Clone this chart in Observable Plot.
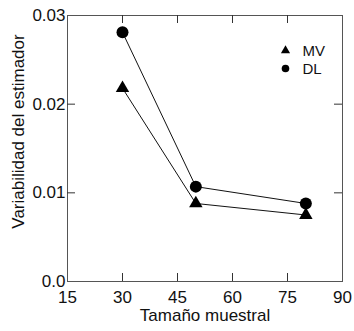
<!DOCTYPE html>
<html>
<head>
<meta charset="utf-8">
<script src="https://cdn.jsdelivr.net/npm/d3@7"></script>
<script src="https://cdn.jsdelivr.net/npm/@observablehq/plot@0.6"></script>
<style>
  html, body { margin: 0; padding: 0; background: #fff; }
  svg { display: block; }
</style>
</head>
<body>
<div id="chart"></div>
<script>
const sampleSizes = [30, 50, 80];
const mvValues = [0.0218, 0.0088, 0.0075];
const dlValues = [0.0281, 0.0107, 0.0088];
const seriesNames = ["MV", "DL"];
const xTicks = [15, 30, 45, 60, 75, 90];
const xInnerTicks = [30, 45, 60, 75];
const yTicks = [0, 0.01, 0.02, 0.03];
const yTickLabels = ["0.0", "0.01", "0.02", "0.03"];
const yInnerTicks = [0.01, 0.02];
const xLabel = "Tamaño muestral";
const yLabel = "Variabilidad del estimador";

const mv = sampleSizes.map((x, i) => ({x, y: mvValues[i]}));
const dl = sampleSizes.map((x, i) => ({x, y: dlValues[i]}));

const W = 354, H = 331;
const mL = 67, mR = 12, mT = 15, mB = 50;
const fw = W - mL - mR, fh = H - mT - mB;
const tickLen = 8;

const font = "'Liberation Sans', Arial, sans-serif";

const chart = Plot.plot({
  width: W,
  height: H,
  marginLeft: mL,
  marginRight: mR,
  marginTop: mT,
  marginBottom: mB,
  style: {fontFamily: font, color: "#111", background: "#fff"},
  x: {domain: [15, 90]},
  y: {domain: [0, 0.03]},
  marks: [
    Plot.frame({stroke: "#555", strokeWidth: 1}),
    // inward ticks bottom & top
    Plot.tickX(xInnerTicks, {x: d => d, insetTop: fh - tickLen, stroke: "#333"}),
    Plot.tickX(xInnerTicks, {x: d => d, insetBottom: fh - tickLen, stroke: "#333"}),
    // inward ticks left & right
    Plot.tickY(yInnerTicks, {y: d => d, insetRight: fw - tickLen, stroke: "#333"}),
    Plot.tickY(yInnerTicks, {y: d => d, insetLeft: fw - tickLen, stroke: "#333"}),
    Plot.axisX(xTicks, {tickSize: 0, tickPadding: 9, fontSize: 17, label: null}),
    Plot.axisY(yTicks, {tickSize: 0, tickPadding: 2, fontSize: 17, label: null,
      tickFormat: (d) => yTickLabels[yTicks.indexOf(d)]}),
    // series
    Plot.line(mv, {x: "x", y: "y", stroke: "#111", strokeWidth: 1}),
    Plot.line(dl, {x: "x", y: "y", stroke: "#111", strokeWidth: 1}),
    Plot.dot(mv, {x: "x", y: "y", symbol: "triangle", r: 5, fill: "#000", stroke: "none"}),
    Plot.dot(dl, {x: "x", y: "y", symbol: "circle", r: 6, fill: "#000", stroke: "none"}),
    // legend
    Plot.dot([seriesNames[0]], {frameAnchor: "top-right", dx: -57, dy: 35, symbol: "triangle", r: 3.4, fill: "#000", stroke: "none"}),
    Plot.dot([seriesNames[1]], {frameAnchor: "top-right", dx: -57, dy: 53, symbol: "circle", r: 3.8, fill: "#000", stroke: "none"}),
    Plot.text([seriesNames[0]], {text: d => d, frameAnchor: "top-right", dx: -40, dy: 36, textAnchor: "start", lineAnchor: "middle", fontSize: 15}),
    Plot.text([seriesNames[1]], {text: d => d, frameAnchor: "top-right", dx: -40, dy: 54, textAnchor: "start", lineAnchor: "middle", fontSize: 15}),
    // axis labels
    Plot.text([xLabel], {text: d => d, frameAnchor: "bottom", dy: 34, textAnchor: "middle", lineAnchor: "middle", fontSize: 17}),
    Plot.text([yLabel], {text: d => d, frameAnchor: "left", rotate: -90, dx: -49, dy: -17, textAnchor: "middle", lineAnchor: "middle", fontSize: 17})
  ]
});

document.getElementById("chart").append(chart);
</script>
</body>
</html>
